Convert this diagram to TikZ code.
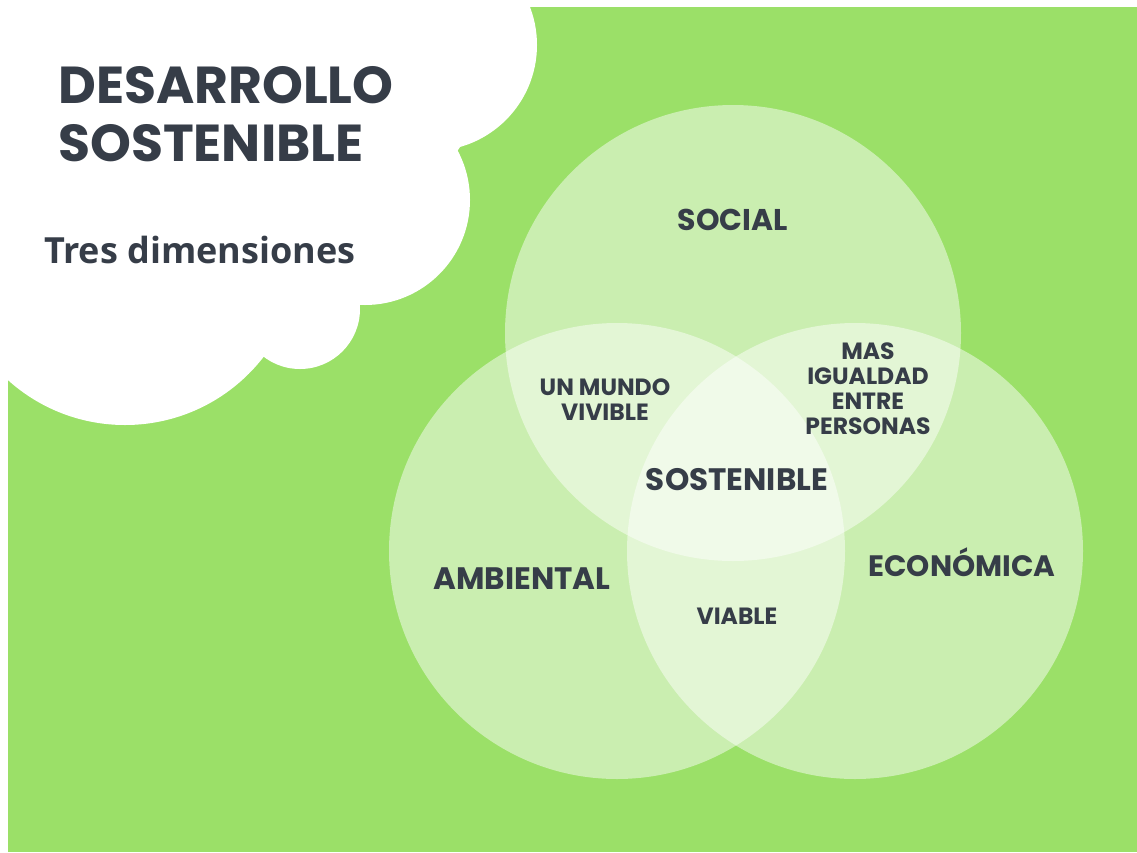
\documentclass[tikz,border=0pt]{standalone}
\usepackage{fontspec}
\setmainfont{Poppins}
\newfontfamily\subfont{Open Sans}
\definecolor{bg}{HTML}{9BE068}
\definecolor{ink}{HTML}{363D48}
\begin{document}
\begin{tikzpicture}[x=1pt,y=-1pt,
  lbl/.style={text=ink, font=\bfseries\fontsize{#1}{25}\selectfont, inner sep=0pt, align=center},
  venn/.style={fill=white, fill opacity=0.48},
  cloud/.style={fill=white}]
\useasboundingbox (0,0) rectangle (1137,852);
\fill[white] (0,0) rectangle (1137,852);
\fill[bg] (8,7) rectangle (1137,852);
% cloud
\begin{scope}
\clip (8,7) rectangle (1137,852);
\fill[cloud] (8,7) -- (530,7) -- (460,147) -- (360,303) -- (263,357) -- (8,380) -- cycle;
\fill[cloud] (431,45) circle[radius=106pt];
\fill[cloud] (365,200) circle[radius=105pt];
\fill[cloud] (300,309) circle[radius=60pt];
\fill[cloud] (125,250) circle[radius=175pt];
\end{scope}
% venn circles
\fill[venn] (733,333) circle[radius=228pt];
\fill[venn] (617,551) circle[radius=228pt];
\fill[venn] (855,551) circle[radius=228pt];
% titles
\node[lbl=52, anchor=west] (t1) at (58,85) {DESARROLLO};
\node[lbl=52, anchor=west] (t2) at (58,143) {SOSTENIBLE};
\node[text=ink, font=\subfont\bfseries\fontsize{36}{36}\selectfont, inner sep=0pt, anchor=west] (t3) at (44,250) {Tres dimensiones};
% labels
\node[lbl=30] (social) at (733,220) {SOCIAL};
\node[lbl=31] (ambiental) at (522,579) {AMBIENTAL};
\node[lbl=29.5] (economica) at (962,562) {ECONÓMICA};
\node[lbl=31] (sost) at (737,480) {SOSTENIBLE};
\node[lbl=23.5] (mundo) at (605,399.5) {UN MUNDO\\VIVIBLE};
\node[lbl=23.5] (igual) at (868,388.5) {MAS\\IGUALDAD\\ENTRE\\PERSONAS};
\node[lbl=23.5] (viable) at (737,616) {VIABLE};
\end{tikzpicture}
\end{document}
